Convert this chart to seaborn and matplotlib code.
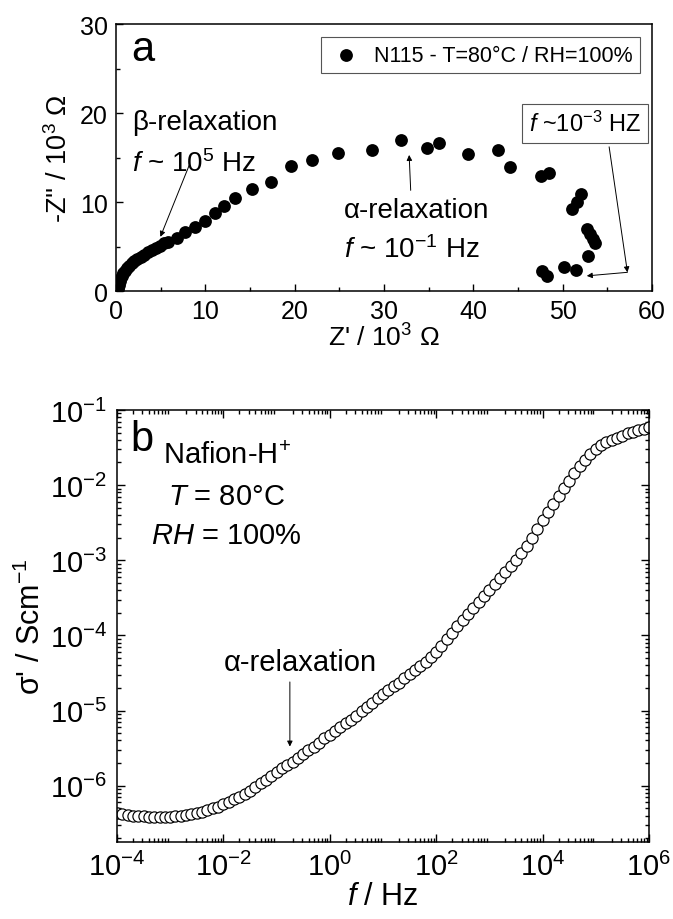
import numpy as np
import pandas as pd
import matplotlib
matplotlib.use("Agg")
import matplotlib.pyplot as plt
import seaborn as sns
from matplotlib.ticker import MultipleLocator, LogLocator, NullFormatter

# Panel a: Nyquist plot, Z' and -Z'' in 10^3 Ohm
z_real = [0.2, 0.3, 0.4, 0.5, 0.65, 0.8, 1.0, 1.2, 1.45, 1.75, 2.05, 2.4, 2.75,
          3.15, 3.55, 4.0, 4.45, 4.9, 5.4, 5.86, 6.8, 7.7, 8.85, 10.0, 11.1, 12.1,
          13.3, 15.2, 17.4, 19.6, 21.9, 24.9, 28.6, 31.9, 34.8, 36.2, 39.4, 42.8,
          44.1, 47.6, 48.5, 52.0, 51.6, 51.1, 52.7, 53.1, 53.4, 53.6, 52.8, 51.5,
          50.2, 47.7, 48.3]
z_imag = [0.2, 0.7, 1.1, 1.4, 1.7, 2.0, 2.3, 2.6, 2.85, 3.1, 3.35, 3.6, 3.85,
          4.1, 4.35, 4.6, 4.85, 5.1, 5.4, 5.55, 6.0, 6.6, 7.15, 7.9, 8.8, 9.5,
          10.4, 11.5, 12.2, 14.0, 14.75, 15.5, 15.9, 17.0, 16.1, 16.6, 15.4, 15.9,
          13.9, 12.9, 13.3, 10.9, 10.0, 9.2, 7.0, 6.4, 5.9, 5.4, 3.9, 2.4,
          2.7, 2.3, 1.7]

# Panel b: log10(f / Hz) and log10(sigma' / S cm^-1)
log_f = [-4.0, -3.9, -3.8, -3.7, -3.6, -3.5, -3.4, -3.3, -3.2, -3.1,
         -3.0, -2.9, -2.8, -2.7, -2.6, -2.5, -2.4, -2.3, -2.2, -2.1,
         -2.0, -1.9, -1.8, -1.7, -1.6, -1.5, -1.4, -1.3, -1.2, -1.1,
         -1.0, -0.9, -0.8, -0.7, -0.6, -0.5, -0.4, -0.3, -0.2, -0.1,
         0.0, 0.1, 0.2, 0.3, 0.4, 0.5, 0.6, 0.7, 0.8, 0.9,
         1.0, 1.1, 1.2, 1.3, 1.4, 1.5, 1.6, 1.7, 1.8, 1.9,
         2.0, 2.1, 2.2, 2.3, 2.4, 2.5, 2.6, 2.7, 2.8, 2.9,
         3.0, 3.1, 3.2, 3.3, 3.4, 3.5, 3.6, 3.7, 3.8, 3.9,
         4.0, 4.1, 4.2, 4.3, 4.4, 4.5, 4.6, 4.7, 4.8, 4.9,
         5.0, 5.1, 5.2, 5.3, 5.4, 5.5, 5.6, 5.7, 5.8, 5.9, 6.0]
log_sigma = [-6.36, -6.38, -6.39, -6.40, -6.41, -6.41, -6.42, -6.42, -6.42, -6.42,
             -6.42, -6.41, -6.40, -6.39, -6.38, -6.37, -6.35, -6.32, -6.30, -6.28,
             -6.25, -6.22, -6.18, -6.15, -6.11, -6.07, -6.02, -5.97, -5.92, -5.87,
             -5.82, -5.77, -5.72, -5.68, -5.63, -5.58, -5.53, -5.48, -5.43, -5.37,
             -5.32, -5.27, -5.22, -5.17, -5.12, -5.07, -5.01, -4.95, -4.90, -4.84,
             -4.78, -4.73, -4.68, -4.63, -4.57, -4.52, -4.46, -4.41, -4.35, -4.29,
             -4.22, -4.14, -4.05, -3.97, -3.88, -3.80, -3.72, -3.63, -3.55, -3.47,
             -3.39, -3.31, -3.24, -3.16, -3.08, -3.00, -2.91, -2.81, -2.70, -2.59,
             -2.47, -2.36, -2.25, -2.14, -2.04, -1.94, -1.84, -1.75, -1.66, -1.58,
             -1.52, -1.47, -1.43, -1.40, -1.37, -1.34, -1.31, -1.29, -1.27, -1.25, -1.23]

sns.set_style("ticks")
plt.rcParams['font.family'] = ['Liberation Sans', 'DejaVu Sans']
plt.rcParams['mathtext.fontset'] = 'custom'
plt.rcParams['mathtext.rm'] = 'Liberation Sans'
plt.rcParams['mathtext.it'] = 'Liberation Sans:italic'
plt.rcParams['mathtext.bf'] = 'Liberation Sans:bold'
plt.rcParams['mathtext.sf'] = 'Liberation Sans'
plt.rcParams['axes.linewidth'] = 1.1
plt.rcParams['axes.edgecolor'] = 'black'
plt.rcParams['text.color'] = 'black'
plt.rcParams['axes.labelcolor'] = 'black'

df_a = pd.DataFrame({'zr': z_real, 'zi': z_imag})
df_b = pd.DataFrame({'f': 10.0 ** np.array(log_f), 's': 10.0 ** np.array(log_sigma)})

fig = plt.figure(figsize=(6.73, 9.2), dpi=100)

# ---- panel a ----
ax1 = fig.add_axes([0.1724, 0.6826, 0.7964, 0.2902])
sns.scatterplot(data=df_a, x='zr', y='zi', ax=ax1, color='black', s=85,
                edgecolor='black', linewidth=0, label='N115 - T=80°C / RH=100%')
ax1.set_xlim(0, 60)
ax1.set_ylim(0, 30)
ax1.xaxis.set_major_locator(MultipleLocator(10))
ax1.xaxis.set_minor_locator(MultipleLocator(5))
ax1.yaxis.set_major_locator(MultipleLocator(10))
ax1.yaxis.set_minor_locator(MultipleLocator(5))
ax1.tick_params(which='both', direction='in', top=False, right=False, width=1.0,
                labelsize=18, colors='black')
ax1.tick_params(which='major', length=5, pad=6)
ax1.tick_params(which='minor', length=3)
ax1.set_xlabel("Z' / 10$^{3}$ Ω", fontsize=19, labelpad=0)
ax1.set_ylabel("-Z'' / 10$^{3}$ Ω", fontsize=19.5, labelpad=5)
leg = ax1.legend(loc='upper right', bbox_to_anchor=(0.978, 0.95), borderaxespad=0,
                 fancybox=False, edgecolor='#555555', fontsize=15.5, markerscale=1.0,
                 handletextpad=0.5, handlelength=1.6, borderpad=0.35, framealpha=1)
leg.get_frame().set_linewidth(0.8)
ax1.text(1.7, 27.2, 'a', fontsize=30, va='center', ha='left')
ax1.text(1.8, 19.0, 'β-relaxation', fontsize=20, va='center', ha='left')
ax1.text(1.8, 14.4, '$\\mathit{f}$ ~ 10$^{5}$ Hz', fontsize=20, va='center', ha='left')
ax1.annotate('', xy=(4.85, 5.8), xytext=(8.3, 14.4),
             arrowprops=dict(arrowstyle='-|>', color='black', lw=0.7, mutation_scale=8))
ax1.text(25.5, 9.1, 'α-relaxation', fontsize=20, va='center', ha='left')
ax1.text(25.5, 4.7, '$\\mathit{f}$ ~ 10$^{-1}$ Hz', fontsize=20, va='center', ha='left')
ax1.annotate('', xy=(32.8, 15.6), xytext=(33.0, 11.0),
             arrowprops=dict(arrowstyle='-|>', color='black', lw=0.7, mutation_scale=8))
ax1.text(52.5, 18.8, '$\\mathit{f}$ ~10$^{-3}$ HZ', fontsize=17, va='center', ha='center',
         bbox=dict(boxstyle='square,pad=0.3', fc='white', ec='#555555', lw=0.8))
ax1.annotate('', xy=(57.25, 2.1), xytext=(55.2, 16.2),
             arrowprops=dict(arrowstyle='-|>', color='black', lw=0.7, mutation_scale=8,
                             shrinkA=0, shrinkB=0))
ax1.annotate('', xy=(52.7, 1.7), xytext=(57.25, 2.1),
             arrowprops=dict(arrowstyle='-|>', color='black', lw=0.7, mutation_scale=8,
                             shrinkA=0, shrinkB=0))

# ---- panel b ----
ax2 = fig.add_axes([0.1738, 0.0837, 0.7905, 0.4696])
sns.scatterplot(data=df_b, x='f', y='s', ax=ax2, s=65, facecolor='white',
                edgecolor='black', linewidth=0.85, legend=False)
ax2.set_xscale('log')
ax2.set_yscale('log')
ax2.set_xlim(1e-4, 1e6)
ax2.set_ylim(10 ** -6.75, 1e-1)
ax2.xaxis.set_major_locator(LogLocator(base=10, numticks=20))
ax2.xaxis.set_minor_locator(LogLocator(base=10, subs=np.arange(2, 10), numticks=20))
ax2.yaxis.set_major_locator(LogLocator(base=10, numticks=20))
ax2.yaxis.set_minor_locator(LogLocator(base=10, subs=np.arange(2, 10), numticks=20))
ax2.xaxis.set_minor_formatter(NullFormatter())
ax2.yaxis.set_minor_formatter(NullFormatter())
ax2.set_xticks([1e-4, 1e-2, 1e0, 1e2, 1e4, 1e6])
ax2.tick_params(which='both', direction='in', top=True, right=True, width=1.0,
                labelsize=21, colors='black')
ax2.tick_params(which='major', length=6, pad=7)
ax2.tick_params(which='minor', length=3)
ax2.set_xlabel('$\\mathit{f}$ / Hz', fontsize=22, labelpad=0)
ax2.set_ylabel("σ' / Scm$^{-1}$", fontsize=22, labelpad=2)
ax2.text(10 ** -3.53, 10 ** -1.39, 'b', fontsize=30, va='center', ha='center')
ax2.text(10 ** -1.94, 10 ** -1.60, 'Nafion-H$^{+}$', fontsize=21, va='center', ha='center')
ax2.text(10 ** -1.94, 10 ** -2.14, '$\\mathit{T}$ = 80°C', fontsize=21, va='center', ha='center')
ax2.text(10 ** -1.94, 10 ** -2.67, '$\\mathit{RH}$ = 100%', fontsize=21, va='center', ha='center')
ax2.text(10 ** -0.56, 10 ** -4.36, 'α-relaxation', fontsize=21, va='center', ha='center')
ax2.annotate('', xy=(10 ** -0.75, 10 ** -5.48), xytext=(10 ** -0.75, 10 ** -4.62),
             arrowprops=dict(arrowstyle='-|>', color='black', lw=0.7, mutation_scale=8,
                             shrinkA=0, shrinkB=0))

fig.savefig('out.png', dpi=100)
